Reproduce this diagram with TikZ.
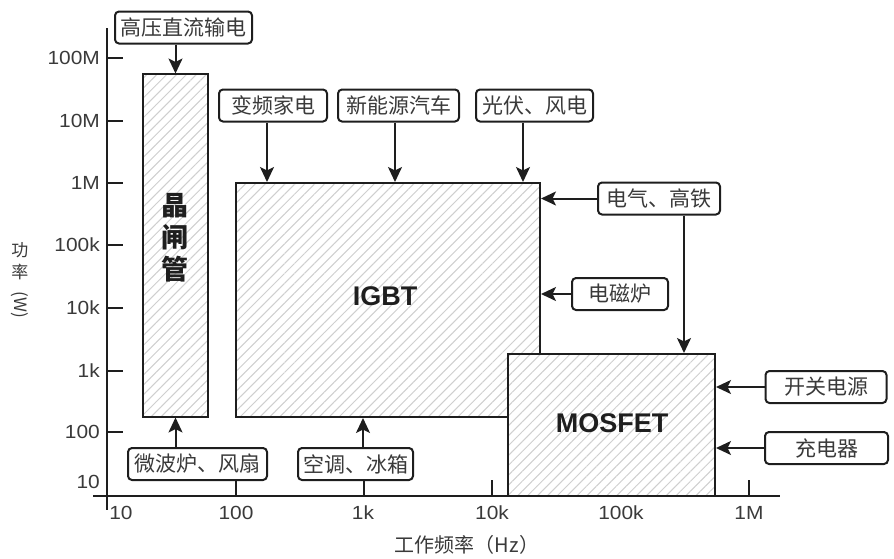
\documentclass[tikz,border=0pt]{standalone}
\usepackage{fontspec}
\setmainfont{Liberation Sans}
\newfontfamily\cjk{Noto Sans CJK SC}
\newfontfamily\tickfont[FakeStretch=1.1]{Liberation Sans}
\usetikzlibrary{arrows.meta,patterns.meta}
\definecolor{ink}{HTML}{1E1E1E}
\definecolor{txt}{HTML}{3A3A3A}
\definecolor{hatchc}{HTML}{CFCFCF}
\begin{document}
\begin{tikzpicture}[x=1pt,y=-1pt,
  lbl/.style={draw=ink, line width=2pt, rounded corners=4pt, fill=white,
    minimum height=32pt, inner sep=0pt, text=txt,
    font=\cjk\fontsize{21}{21}\selectfont},
  dev/.style={draw=ink, line width=2pt, preaction={fill=white},
    pattern={Lines[angle=45,distance=7pt,line width=1pt]},
    pattern color=hatchc, inner sep=0pt},
  devtext/.style={text=ink, font=\bfseries\fontsize{27}{27}\selectfont},
  arr/.style={draw=ink, line width=2pt, -{Stealth[length=15pt,width=14pt,inset=3.5pt]}},
  axisline/.style={draw=ink, line width=2pt},
  ticklbl/.style={text=txt, font=\tickfont\fontsize{19}{19}\selectfont, inner sep=0pt},
  axlbl/.style={text=txt, font=\cjk\fontsize{20}{20}\selectfont, inner sep=0pt},
  ylbl/.style={text=txt, font=\cjk\fontsize{17}{17}\selectfont, inner sep=0pt}]
\useasboundingbox (0,0) rectangle (894,558);

% axes
\coordinate (ytop) at (107,28);
\coordinate (ybot) at (107,510);
\coordinate (xl) at (93,496);
\coordinate (xr) at (780,496);

% device regions
\node[dev, minimum width=65pt, minimum height=343pt] (thy) at (175.5,245.5) {};
\node[dev, minimum width=304pt, minimum height=234pt] (igbt) at (388,300) {};
\node[dev, minimum width=207pt, minimum height=142pt] (mos) at (611.5,425) {};
\node[text=ink, align=center, font=\cjk\bfseries\fontsize{27}{32}\selectfont] (thyt) at (175,238) {晶\\闸\\管};
\node[devtext] (igbtt) at (385,296) {IGBT};
\node[devtext] (most) at (612,423) {MOSFET};

\draw[axisline] (ytop) -- (ybot);
\draw[axisline] (xl) -- (xr);

% y ticks
\foreach \yy/\tt in {58/100M,121/10M,183/1M,245/100k,308/10k,371/1k,432/100}{
  \draw[axisline] (107,\yy) -- (123,\yy);
  \node[ticklbl, anchor=east] (yt\tt) at (100,\yy) {\tt};
}
\node[ticklbl, anchor=east] (yt10) at (100,482) {10};

% x ticks
\foreach \xx in {236,364,492,749}{
  \draw[axisline] (\xx,496) -- (\xx,480);
}
\foreach \xx/\tt in {121/10,236/100,363/1k,492/10k,621/100k,749/1M}{
  \node[ticklbl] (xt\tt) at (\xx,513) {\tt};
}

% axis titles
\node[axlbl] (xlab) at (467,545) {工作频率（Hz）};
\node[ylbl] (ylab1) at (20,250) {功};
\node[ylbl] (ylab2) at (20,272) {率};
\node[ylbl, rotate=-90] (ylab3) at (20,305) {(W)};

% application labels
\node[lbl, minimum width=137pt] (hvdc) at (183.5,27.5) {高压直流输电};
\node[lbl, minimum width=108pt] (vf) at (273,105.5) {变频家电};
\node[lbl, minimum width=121pt] (xny) at (398.5,105.5) {新能源汽车};
\node[lbl, minimum width=117pt] (gf) at (534.5,105.5) {光伏、风电};
\node[lbl, minimum width=122pt] (dq) at (659,198.5) {电气、高铁};
\node[lbl, minimum width=96pt] (dcl) at (620,294) {电磁炉};
\node[lbl, minimum width=121pt] (kg) at (826,387) {开关电源};
\node[lbl, minimum width=123pt] (cd) at (826.5,448) {充电器};
\node[lbl, minimum width=139pt] (wb) at (197.5,464) {微波炉、风扇};
\node[lbl, minimum width=115pt] (kt) at (355.5,464) {空调、冰箱};

% arrows
\draw[arr] (hvdc.south -| thy.north) -- (thy.north);
\draw[arr] ([xshift=-6pt]vf.south) -- ([xshift=-6pt]vf.south |- igbt.north);
\draw[arr] ([xshift=-3.5pt]xny.south) -- ([xshift=-3.5pt]xny.south |- igbt.north);
\draw[arr] ([xshift=-11.5pt]gf.south) -- ([xshift=-11.5pt]gf.south |- igbt.north);
\draw[arr] (dq.west) -- (dq.west -| igbt.east);
\draw[arr] ([xshift=25pt]dq.south) -- ([xshift=25pt]dq.south |- mos.north);
\draw[arr] (dcl.west) -- (dcl.west -| igbt.east);
\draw[arr] (kg.west) -- (kg.west -| mos.east);
\draw[arr] (cd.west) -- (cd.west -| mos.east);
\draw[arr] (wb.north -| thy.south) -- (thy.south);
\draw[arr] ([xshift=7.5pt]kt.north) -- ([xshift=7.5pt]kt.north |- igbt.south);
\end{tikzpicture}
\end{document}
